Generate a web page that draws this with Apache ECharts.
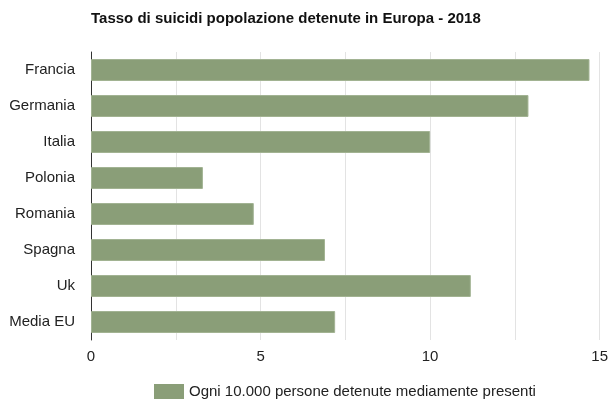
<!DOCTYPE html>
<html><head><meta charset="utf-8">
<script src="https://cdn.jsdelivr.net/npm/echarts@6/dist/echarts.min.js"></script>
<style>html,body{margin:0;padding:0;background:#fff}#c{width:611px;height:400px}</style>
</head><body><div id="c"></div>
<script>
const categories = ["Francia","Germania","Italia","Polonia","Romania","Spagna","Uk","Media EU"];
const values = [14.7, 12.9, 10.0, 3.3, 4.8, 6.9, 11.2, 7.2];
const seriesName = "Ogni 10.000 persone detenute mediamente presenti";
const titleText = "Tasso di suicidi popolazione detenute in Europa - 2018";
const font = "Liberation Sans, Arial, Helvetica, sans-serif";
const chart = echarts.init(document.getElementById('c'), null, {renderer:'canvas'});
chart.setOption({
  animation:false,
  title:{text:titleText,left:86,top:6,textStyle:{fontFamily:font,fontSize:15,fontWeight:'bold',color:'#111'}},
  legend:{top:379,left:149,itemWidth:30,itemHeight:15,itemGap:6,icon:'rect',
    itemStyle:{borderWidth:0},
    textStyle:{fontFamily:font,fontSize:15,color:'#222'},data:[seriesName]},
  grid:{left:91,right:11,top:52,bottom:60,containLabel:false},
  xAxis:{type:'value',min:0,max:15,interval:2.5,
    axisLine:{show:false},axisTick:{show:false},
    splitLine:{show:true,lineStyle:{color:'#e3e3e3',width:1}},
    axisLabel:{fontFamily:font,fontSize:15,color:'#222',margin:9,
      formatter:v=> (v%5===0? String(v):'')}},
  yAxis:{type:'category',data:categories,inverse:true,
    axisLine:{show:true,lineStyle:{color:'#333',width:1}},axisTick:{show:false},
    axisLabel:{fontFamily:font,fontSize:15,color:'#222',margin:16}},
  series:[{name:seriesName,type:'bar',data:values,barWidth:'61%',
    itemStyle:{color:'#8a9e78',borderColor:'#a2b393',borderWidth:1}}]
});
</script></body></html>
